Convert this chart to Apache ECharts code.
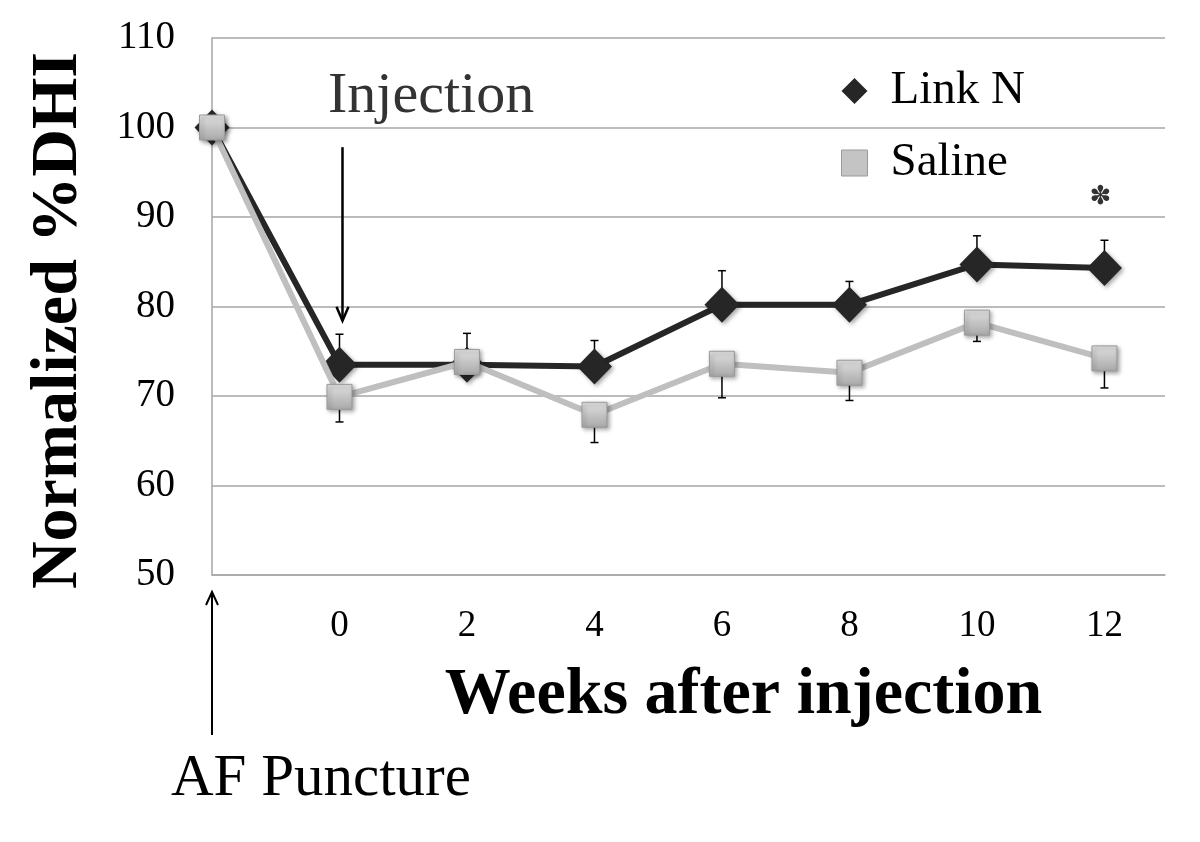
<!DOCTYPE html>
<html>
<head>
<meta charset="utf-8">
<script src="https://cdn.jsdelivr.net/npm/echarts@6/dist/echarts.min.js"></script>
<style>html,body{margin:0;padding:0;background:#fff}#c{width:1200px;height:842px}</style>
</head>
<body>
<div id="c"></div>
<script>
// Weeks (-2 = AF puncture time point, drawn on the y axis)
const weeks = [-2, 0, 2, 4, 6, 8, 10, 12];
const linkN = [100, 73.5, 73.5, 73.3, 80.2, 80.2, 84.7, 84.3];
const linkNErr = [0, 3.4, 3.5, 2.9, 3.8, 2.6, 3.2, 3.1];
const saline = [100, 69.9, 73.8, 67.9, 73.6, 72.6, 78.2, 74.2];
const salineErr = [0, 2.8, 0, 3.1, 3.8, 3.1, 2.1, 3.3];
const yTicks = [50, 60, 70, 80, 90, 100, 110];
const seriesNames = ['Link N', 'Saline'];

const SERIF = '"Liberation Serif","Times New Roman",serif';
const chart = echarts.init(document.getElementById('c'), null, {renderer: 'canvas'});

function errSeries(values, errs, dir) {
  return {
    type: 'custom',
    z: 1,
    silent: true,
    data: weeks.map((w, i) => [w, values[i], errs[i]]),
    renderItem: function (params, api) {
      const x = api.value(0), v = api.value(1), e = api.value(2);
      if (!e) return null;
      const p0 = api.coord([x, v]);
      const p1 = api.coord([x, v + dir * e]);
      return {
        type: 'group',
        children: [
          {type: 'line', shape: {x1: p0[0], y1: p0[1], x2: p1[0], y2: p1[1]}, style: {stroke: '#000', lineWidth: 1.5}},
          {type: 'line', shape: {x1: p1[0] - 4, y1: p1[1], x2: p1[0] + 4, y2: p1[1]}, style: {stroke: '#000', lineWidth: 1.5}}
        ]
      };
    }
  };
}

const salineGrad = new echarts.graphic.LinearGradient(0, 0, 0, 1, [
  {offset: 0, color: '#e2e2e2'},
  {offset: 0.5, color: '#c4c4c4'},
  {offset: 1, color: '#a9a9a9'}
]);

const option = {
  backgroundColor: '#fff',
  animation: false,
  grid: {left: 212, right: 35, top: 38, bottom: 267},
  legend: {
    orient: 'vertical',
    left: 836,
    top: 62,
    itemGap: 24,
    itemWidth: 26,
    itemHeight: 26,
    textStyle: {fontFamily: SERIF, fontSize: 47, color: '#000', padding: [0, 0, 0, 18], lineHeight: 48},
    data: [
      {name: seriesNames[0], icon: 'diamond', itemStyle: {color: '#262626'}},
      {name: seriesNames[1], icon: 'rect', itemStyle: {color: '#c4c4c4', borderColor: '#9a9a9a', borderWidth: 1}}
    ]
  },
  xAxis: {
    type: 'value',
    min: -2,
    max: 12.95,
    interval: 2,
    axisLine: {show: true, onZero: false, lineStyle: {color: '#a6a6a6', width: 1.5}},
    axisTick: {show: false},
    splitLine: {show: false},
    axisLabel: {
      fontFamily: SERIF, fontSize: 37, color: '#000', margin: 33,
      formatter: v => (v >= 0 && v % 2 === 0 && v <= 12) ? String(v) : ''
    },
    name: 'Weeks after injection',
    nameLocation: 'middle',
    nameGap: 88,
    nameTextStyle: {fontFamily: SERIF, fontSize: 66, fontWeight: 'bold', color: '#000', padding: [0, 0, 0, 110]}
  },
  yAxis: {
    type: 'value',
    min: yTicks[0],
    max: yTicks[yTicks.length - 1],
    interval: 10,
    axisLine: {show: true, onZero: false, lineStyle: {color: '#a6a6a6', width: 1.5}},
    axisTick: {show: false},
    splitLine: {show: true, lineStyle: {color: '#a6a6a6', width: 1.5}},
    axisLabel: {fontFamily: SERIF, fontSize: 39, color: '#000', margin: 37},
    name: 'Normalized %DHI',
    nameLocation: 'middle',
    nameRotate: 90,
    nameGap: 120,
    nameTextStyle: {fontFamily: SERIF, fontSize: 66, fontWeight: 'bold', color: '#000', padding: [0, 28, 0, 0]}
  },
  series: [
    errSeries(linkN, linkNErr, 1),
    errSeries(saline, salineErr, -1),
    {
      name: seriesNames[0],
      type: 'line',
      z: 3,
      data: weeks.map((w, i) => [w, linkN[i]]),
      symbol: 'diamond',
      symbolSize: [35, 36],
      showAllSymbol: true,
      lineStyle: {color: '#262626', width: 6},
      itemStyle: {color: '#262626', shadowColor: 'rgba(0,0,0,0.35)', shadowBlur: 4, shadowOffsetX: 2, shadowOffsetY: 2}
    },
    {
      name: seriesNames[1],
      type: 'line',
      z: 4,
      data: weeks.map((w, i) => [w, saline[i]]),
      symbol: 'rect',
      symbolSize: [25, 25],
      lineStyle: {color: '#bfbfbf', width: 6},
      itemStyle: {color: salineGrad, borderColor: '#9a9a9a', borderWidth: 1, shadowColor: 'rgba(0,0,0,0.35)', shadowBlur: 4, shadowOffsetX: 2, shadowOffsetY: 2}
    }
  ]
};
chart.setOption(option);

// Annotations positioned through the chart's scales
const injTop = chart.convertToPixel({gridIndex: 0}, [0, 97.8]);
const injBot = chart.convertToPixel({gridIndex: 0}, [0, 78.4]);
const afTop = chart.convertToPixel({gridIndex: 0}, [-2, 48.1]);
const star = chart.convertToPixel({gridIndex: 0}, [12, 92.2]);
const injX = injTop[0] + 3;
const afX = afTop[0];
chart.setOption({
  graphic: [
    {type: 'text', left: 328, top: 68, style: {text: 'Injection', fontFamily: SERIF, fontSize: 58, fill: '#333'}},
    {type: 'line', shape: {x1: injX, y1: injTop[1], x2: injX, y2: injBot[1] - 2}, style: {stroke: '#000', lineWidth: 2.5}},
    {type: 'polyline', shape: {points: [[injX - 6, injBot[1] - 14], [injX, injBot[1]], [injX + 6, injBot[1] - 14]]}, style: {stroke: '#000', lineWidth: 2.5, fill: null}},
    {type: 'line', shape: {x1: afX, y1: 735, x2: afX, y2: afTop[1]}, style: {stroke: '#000', lineWidth: 2}},
    {type: 'polyline', shape: {points: [[afX - 6, afTop[1] + 13], [afX, afTop[1]], [afX + 6, afTop[1] + 13]]}, style: {stroke: '#000', lineWidth: 2, fill: null}},
    {type: 'text', left: 171, top: 750, style: {text: 'AF Puncture', fontFamily: SERIF, fontSize: 59, fill: '#000'}},
    {type: 'text', x: star[0] - 4, y: star[1], style: {text: '\u273D', fontFamily: '"DejaVu Sans"', fontSize: 26, fill: '#333', align: 'center', verticalAlign: 'middle'}}
  ]
});
</script>
</body>
</html>
